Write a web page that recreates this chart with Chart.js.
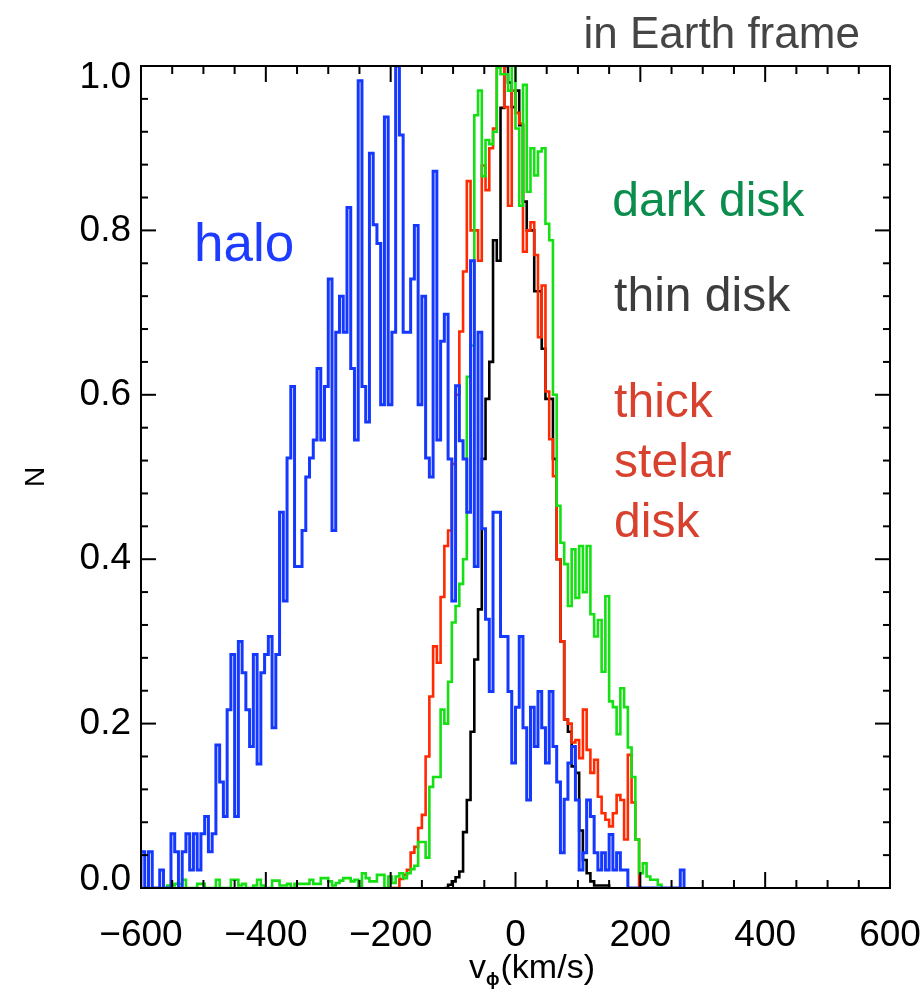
<!DOCTYPE html>
<html>
<head>
<meta charset="utf-8">
<title>v_phi distribution in Earth frame</title>
<script src="https://cdn.jsdelivr.net/npm/chart.js@4.4.1/dist/chart.umd.min.js"></script>
<style>
  html, body { margin: 0; padding: 0; background: #fff; }
  #wrap { width: 924px; height: 993px; }
</style>
</head>
<body>
<div id="wrap"><canvas id="myChart" width="924" height="993"></canvas></div>
<script>
'use strict';
// histogram bins, 6 km/s wide; each series keeps its own first bin edge
let binWidth = 6;

let haloStart = -600;
let halo = [
  0.044, 0, 0.044, 0, 0, 0.022, 0, 0, 0.066, 0.044,
  0, 0.044, 0.066, 0.022, 0.066, 0.022, 0.066, 0.087, 0.044, 0.066,
  0.174, 0.129, 0.087, 0.217, 0.284, 0.087, 0.30, 0.262, 0.217, 0.172,
  0.284, 0.151, 0.262, 0.284, 0.306, 0.195, 0.284, 0.457, 0.349, 0.523,
  0.61, 0.391, 0.391, 0.435, 0.50, 0.523, 0.545, 0.632, 0.545, 0.61,
  0.741, 0.435, 0.676, 0.72, 0.676, 0.828, 0.632, 0.545, 0.982, 0.61,
  0.567, 0.894, 0.807, 0.784, 0.588, 0.938, 0.588, 0.676, 1.0, 0.916,
  0.676, 0.676, 0.741, 0.806, 0.588, 0.72, 0.523, 0.50, 0.872, 0.545,
  0.665, 0.698, 0.522, 0.349, 0.611, 0.544, 0.522, 0.457, 0.763, 0.391,
  0.676, 0.437, 0.327, 0.239, 0.457, 0.457, 0.306, 0.306, 0.239, 0.152,
  0.22, 0.306, 0.195, 0.107, 0.22, 0.172, 0.239, 0.195, 0.152, 0.239,
  0.172, 0.129, 0.043, 0.108, 0.152, 0.172, 0.107, 0.022, 0.043, 0.107,
  0.087, 0.043, 0.022, 0.043, 0.022, 0.065, 0.022, 0.043, 0.022, 0.022,
  0, 0, 0, 0, 0, 0, 0, 0, 0, 0,
  0, 0, 0, 0, 0.022
];

let darkStart = -558;
let dark = [
  0.003, 0.003, 0.005, 0.005, 0.01, 0, 0, 0, 0.005, 0.005,
  0, 0, 0, 0.01, 0, 0, 0, 0.01, 0.01, 0.003,
  0.005, 0, 0, 0.003, 0.01, 0.003, 0, 0, 0.009, 0.009,
  0.003, 0.003, 0.005, 0, 0.005, 0.005, 0.005, 0.005, 0.01, 0.005,
  0.005, 0.012, 0.012, 0.008, 0.003, 0.006, 0.009, 0.012, 0.012, 0.008,
  0.01, 0, 0.018, 0.012, 0.008, 0.008, 0.016, 0.016, 0, 0.014,
  0.006, 0.014, 0.018, 0.012, 0.018, 0.023, 0.027, 0.056, 0.056, 0.037,
  0.123, 0.135, 0.135, 0.217, 0.20, 0.251, 0.323, 0.343, 0.37, 0.40,
  0.622, 0.66, 0.94, 0.97, 0.866, 0.91, 0.905, 0.92, 0.998, 0.99,
  0.99, 0.97, 1.0, 0.924, 0.83, 0.977, 0.847, 0.90, 0.867, 0.896,
  0.90, 0.808, 0.788, 0.60, 0.465, 0.42, 0.394, 0.343, 0.412, 0.353,
  0.416, 0.36, 0.416, 0.333, 0.306, 0.326, 0.263, 0.355, 0.227, 0.22,
  0.187, 0.243, 0.22, 0.171, 0.135, 0.059, 0.018, 0.03, 0.014, 0.01,
  0.01, 0.004
];

let thickStart = -204;
let thick = [
  0, 0, 0, 0.011, 0.016, 0.022, 0.043, 0.05, 0.073, 0.089,
  0.16, 0.233, 0.294, 0.274, 0.354, 0.416, 0.435, 0.516, 0.60, 0.677,
  0.75, 0.86, 0.80, 0.80, 0.763, 0.879, 0.849, 0.90, 0.924, 1.0,
  1.0, 0.95, 0.83, 0.97, 0.943, 0.93, 0.774, 0.80, 0.81, 0.77,
  0.67, 0.733, 0.604, 0.546, 0.501, 0.40, 0.30, 0.205, 0.2, 0.177,
  0.18, 0.158, 0.217, 0.168, 0.14, 0.156, 0.111, 0.091, 0.083, 0.075,
  0.091, 0.113, 0.107, 0.059, 0.162, 0.104, 0.059
];

let thinStart = -114;
let thin = [
  0, 0.004, 0.008, 0.013, 0.02, 0.068, 0.107, 0.19, 0.278, 0.339,
  0.522, 0.595, 0.64, 0.788, 0.763, 0.949, 1.0, 0.98, 0.95, 0.97,
  0.928, 0.835, 0.80, 0.80, 0.726, 0.726, 0.656, 0.595, 0.595, 0.522,
  0.40, 0.30, 0.205, 0.19, 0.148, 0.14, 0.07, 0.034, 0.018, 0.008,
  0.003, 0.003, 0.003, 0.003
];

let xTicks = [-600, -400, -200, 0, 200, 400, 600];
let yTicks = [0.0, 0.2, 0.4, 0.6, 0.8, 1.0];

let fontName = "'Liberation Sans', Arial, Helvetica, sans-serif";

// turn bin heights into points for a stepped outline
function toSteps(start, values) {
  let pts = [{ x: start, y: 0 }];
  for (let i = 0; i < values.length; i++) {
    pts.push({ x: start + i * binWidth, y: values[i] });
  }
  pts.push({ x: start + values.length * binWidth, y: 0 });
  return pts;
}

function seg(ctx, x1, y1, x2, y2) {
  ctx.beginPath();
  ctx.moveTo(x1, y1);
  ctx.lineTo(x2, y2);
  ctx.stroke();
}

let framePlugin = {
  id: 'frame',
  afterDraw(chart) {
    let ctx = chart.ctx;
    let a = chart.chartArea;
    let xs = chart.scales.x;
    let ys = chart.scales.y;
    ctx.save();
    ctx.strokeStyle = '#000';
    ctx.lineWidth = 2;
    ctx.strokeRect(a.left, a.top, a.right - a.left, a.bottom - a.top);

    // inward ticks on all four sides
    for (let k = 0; k <= 24; k++) {
      let v = -600 + k * 50;
      let px = xs.getPixelForValue(v);
      let len = (k % 4 === 0) ? 16 : 8;
      seg(ctx, px, a.bottom, px, a.bottom - len);
      seg(ctx, px, a.top, px, a.top + len);
    }
    for (let k = 0; k <= 25; k++) {
      let py = ys.getPixelForValue(k * 0.04);
      let len = (k % 5 === 0) ? 15 : 7;
      seg(ctx, a.left, py, a.left + len, py);
      seg(ctx, a.right, py, a.right - len, py);
    }

    // tick labels
    ctx.fillStyle = '#000';
    ctx.font = '37px ' + fontName;
    ctx.textAlign = 'center';
    ctx.textBaseline = 'alphabetic';
    xTicks.forEach(function (v) {
      let txt = v < 0 ? '\u2212' + Math.abs(v) : String(v);
      ctx.fillText(txt, xs.getPixelForValue(v), a.bottom + 58);
    });
    ctx.textAlign = 'right';
    ctx.textBaseline = 'middle';
    yTicks.forEach(function (v) {
      let py = ys.getPixelForValue(v);
      py = Math.min(Math.max(py, a.top + 12), a.bottom - 8);
      ctx.fillText(v.toFixed(1), a.left - 10, py);
    });

    // axis titles
    ctx.textBaseline = 'alphabetic';
    ctx.textAlign = 'left';
    ctx.font = '34px ' + fontName;
    let midX = (a.left + a.right) / 2 + 16;
    let w1 = ctx.measureText('v').width;
    ctx.font = 'bold 18px ' + fontName;
    let w2 = ctx.measureText('\u03d5').width;
    ctx.font = '34px ' + fontName;
    let w3 = ctx.measureText('(km/s)').width;
    let x0 = midX - (w1 + w2 + w3) / 2;
    let base = a.bottom + 90;
    ctx.fillText('v', x0, base);
    ctx.font = 'bold 18px ' + fontName;
    ctx.fillText('\u03d5', x0 + w1, base + 7);
    ctx.font = '34px ' + fontName;
    ctx.fillText('(km/s)', x0 + w1 + w2 + 1, base);

    ctx.save();
    ctx.translate(36, (a.top + a.bottom) / 2);
    ctx.rotate(-Math.PI / 2);
    ctx.textAlign = 'center';
    ctx.textBaseline = 'middle';
    ctx.font = '28px ' + fontName;
    ctx.fillText('N', 0, 0);
    ctx.restore();

    // labels of the components
    ctx.textAlign = 'left';
    ctx.textBaseline = 'alphabetic';
    ctx.font = '44px ' + fontName;
    ctx.fillStyle = '#454545';
    ctx.fillText('in Earth frame', xs.getPixelForValue(109), a.top - 18);

    ctx.font = '53px ' + fontName;
    ctx.fillStyle = '#1e3cff';
    ctx.fillText('halo', xs.getPixelForValue(-515), ys.getPixelForValue(0.763));

    ctx.font = '48px ' + fontName;
    ctx.fillStyle = '#0b8d4d';
    ctx.fillText('dark disk', xs.getPixelForValue(155), ys.getPixelForValue(0.817));
    ctx.fillStyle = '#3d3d3d';
    ctx.fillText('thin disk', xs.getPixelForValue(158), ys.getPixelForValue(0.702));
    ctx.fillStyle = '#d8412e';
    ctx.fillText('thick', xs.getPixelForValue(158), ys.getPixelForValue(0.573));
    ctx.fillText('stelar', xs.getPixelForValue(158), ys.getPixelForValue(0.5));
    ctx.fillText('disk', xs.getPixelForValue(158), ys.getPixelForValue(0.427));
    ctx.restore();
  }
};

let ctx = document.getElementById('myChart').getContext('2d');
let myChart = new Chart(ctx, {
  type: 'line',
  data: {
    datasets: [
      { label: 'halo', data: toSteps(haloStart, halo), borderColor: '#1538ff', borderWidth: 3 },
      { label: 'dark disk', data: toSteps(darkStart, dark), borderColor: '#14e014', borderWidth: 2.6 },
      { label: 'thick stelar disk', data: toSteps(thickStart, thick), borderColor: '#ff2a00', borderWidth: 2.6 },
      { label: 'thin disk', data: toSteps(thinStart, thin), borderColor: '#000000', borderWidth: 2.6 }
    ]
  },
  options: {
    responsive: false,
    animation: false,
    parsing: false,
    layout: { padding: { left: 141, right: 34, top: 66, bottom: 105 } },
    elements: {
      point: { radius: 0 },
      line: { stepped: 'before', fill: false, tension: 0 }
    },
    scales: {
      x: { type: 'linear', min: -600, max: 600, display: false },
      y: { type: 'linear', min: 0, max: 1, display: false }
    },
    plugins: { legend: { display: false }, tooltip: { enabled: false } }
  },
  plugins: [framePlugin]
});
</script>
</body>
</html>
